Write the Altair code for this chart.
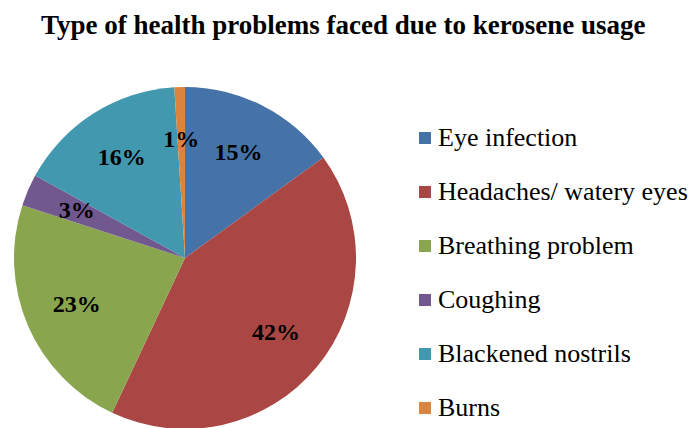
import altair as alt
import pandas as pd

categories = ["Eye infection", "Headaches/ watery eyes", "Breathing problem",
              "Coughing", "Blackened nostrils", "Burns"]
values = [15, 42, 23, 3, 16, 1]
colors = ["#4572A7", "#AA4643", "#89A54E", "#71588F", "#4198AF", "#DB843D"]
title_text = "Type of health problems faced due to kerosene usage"

df = pd.DataFrame({"category": categories, "value": values,
                   "idx": list(range(len(categories)))})
df["label"] = df["value"].astype(str) + "%"

SERIF = "Liberation Serif"
CX, CY = 177, 210

base = alt.Chart(df).encode(
    theta=alt.Theta("value:Q", stack=True),
    order=alt.Order("idx:Q"),
)

pie = base.mark_arc(radius=171, x=CX, y=CY).encode(
    color=alt.Color(
        "category:N",
        sort=categories,
        scale=alt.Scale(domain=categories, range=colors),
        legend=alt.Legend(
            title=None, orient="none", legendX=404, legendY=77,
            symbolType="square", symbolSize=144, symbolStrokeWidth=0,
            labelFont=SERIF, labelFontSize=26, labelColor="black",
            labelLimit=400, labelOffset=0, rowPadding=28, padding=0,
        ),
    )
)

text = base.mark_text(radius=118, x=CX, y=CY, font=SERIF, fontSize=24,
                      fontWeight="bold", color="black").encode(text="label:N")

chart = alt.layer(pie, text).properties(
    width=681, height=380,
    padding={"top": 40, "left": 0, "right": 0, "bottom": 0},
    autosize=alt.AutoSizeParams(type="none"),
    title=alt.TitleParams(title_text, font=SERIF, fontSize=27, fontWeight="bold",
                          color="black", anchor="start", dx=33, offset=-13,
                          baseline="alphabetic"),
).configure_view(stroke=None)

chart.save("out.html", embed_options={"renderer": "svg", "actions": False})
